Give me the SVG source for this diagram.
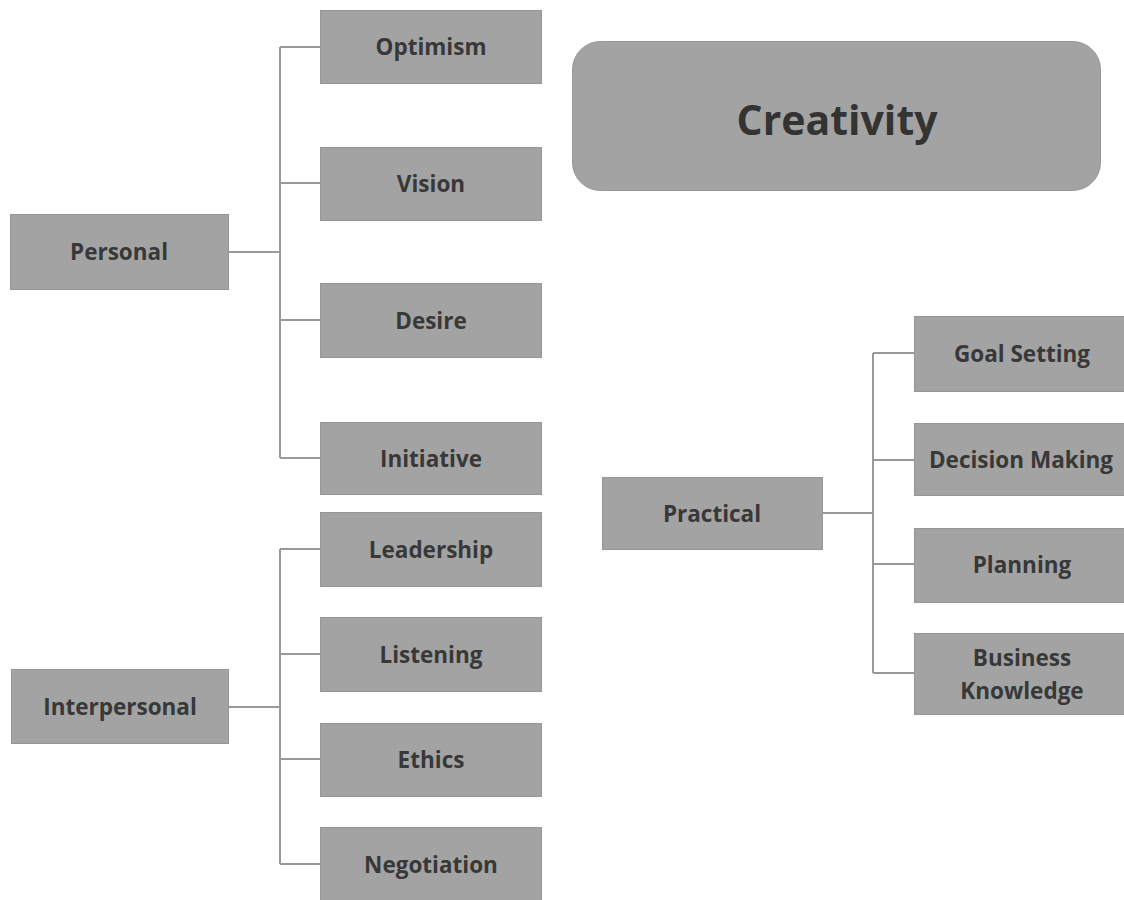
<svg xmlns="http://www.w3.org/2000/svg" width="1124" height="900" viewBox="0 0 1124 900">
<style>
.box{fill:#a3a3a3;stroke:#979797;stroke-width:1}
.lbl{font-family:"Open Sans","Liberation Sans",sans-serif;font-weight:700;font-size:22.5px;fill:#383838;text-anchor:middle}
.title{font-family:"Open Sans","Liberation Sans",sans-serif;font-weight:700;font-size:41px;fill:#333;text-anchor:middle}
.con{fill:none;stroke:#999;stroke-width:2}
</style>
<rect width="1124" height="900" fill="#fff"/>
<g id="connectors">
<path class="con" d="M228,252H280M280,47V458M280,47H320M280,183H320M280,320H320M280,458H320"/>
<path class="con" d="M228,707H280M280,549V864M280,549H320M280,654H320M280,759H320M280,864H320"/>
<path class="con" d="M822,513H873M873,353V673M873,353H914M873,460H914M873,564H914M873,673H914"/>
</g>
<g id="creativity"><rect class="box" x="572.5" y="41.5" width="528" height="149" rx="28"/><text class="title" x="837" y="135">Creativity</text></g>
<g id="personal"><rect class="box" x="10.5" y="214.5" width="218" height="75"/><text class="lbl" x="119" y="260">Personal</text></g>
<g id="optimism"><rect class="box" x="320.5" y="10.5" width="221" height="73"/><text class="lbl" x="431" y="55">Optimism</text></g>
<g id="vision"><rect class="box" x="320.5" y="147.5" width="221" height="73"/><text class="lbl" x="431" y="192">Vision</text></g>
<g id="desire"><rect class="box" x="320.5" y="283.5" width="221" height="74"/><text class="lbl" x="431" y="329">Desire</text></g>
<g id="initiative"><rect class="box" x="320.5" y="422.5" width="221" height="72"/><text class="lbl" x="431" y="467">Initiative</text></g>
<g id="interpersonal"><rect class="box" x="11.5" y="669.5" width="217" height="74"/><text class="lbl" x="120" y="715">Interpersonal</text></g>
<g id="leadership"><rect class="box" x="320.5" y="512.5" width="221" height="74"/><text class="lbl" x="431" y="558">Leadership</text></g>
<g id="listening"><rect class="box" x="320.5" y="617.5" width="221" height="74"/><text class="lbl" x="431" y="663">Listening</text></g>
<g id="ethics"><rect class="box" x="320.5" y="723.5" width="221" height="73"/><text class="lbl" x="431" y="768">Ethics</text></g>
<g id="negotiation"><rect class="box" x="320.5" y="827.5" width="221" height="73"/><text class="lbl" x="431" y="873">Negotiation</text></g>
<g id="practical"><rect class="box" x="602.5" y="477.5" width="220" height="72"/><text class="lbl" x="712" y="522">Practical</text></g>
<g id="goal-setting"><rect class="box" x="914.5" y="316.5" width="220" height="75"/><text class="lbl" x="1022" y="362">Goal Setting</text></g>
<g id="decision-making"><rect class="box" x="914.5" y="423.5" width="220" height="72"/><text class="lbl" x="1021" y="468">Decision Making</text></g>
<g id="planning"><rect class="box" x="914.5" y="528.5" width="220" height="74"/><text class="lbl" x="1022" y="573">Planning</text></g>
<g id="business-knowledge"><rect class="box" x="914.5" y="633.5" width="220" height="81"/><text class="lbl" x="1022" y="666">Business</text><text class="lbl" x="1022" y="699">Knowledge</text></g>
</svg>
